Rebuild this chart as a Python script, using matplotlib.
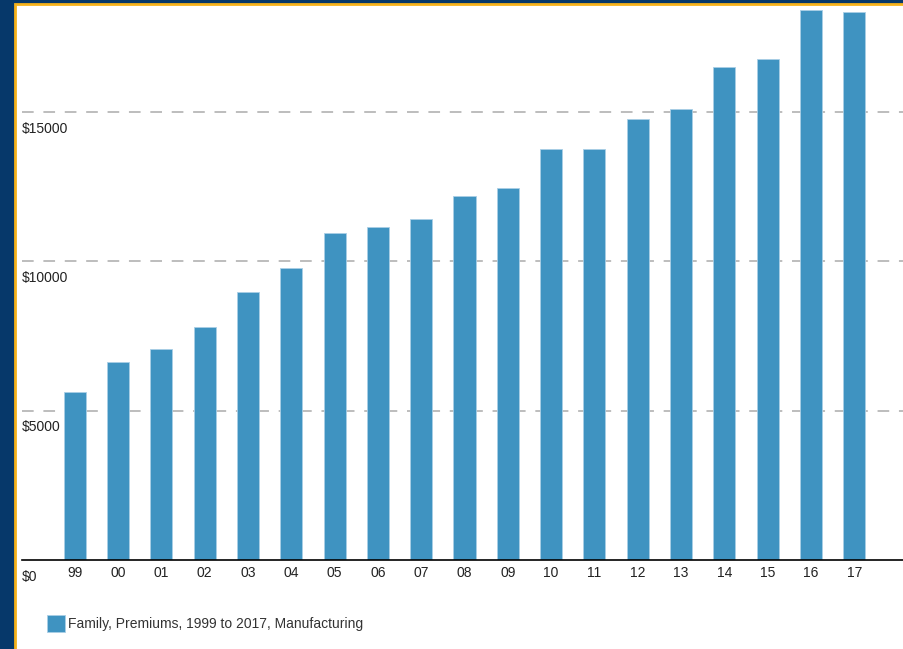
import matplotlib.pyplot as plt
from matplotlib.patches import Rectangle

plt.rcParams['font.family'] = ['Liberation Sans', 'DejaVu Sans']

years = ["99", "00", "01", "02", "03", "04", "05", "06", "07", "08",
         "09", "10", "11", "12", "13", "14", "15", "16", "17"]
premiums = [5630, 6630, 7070, 7800, 8970, 9780, 10950, 11150, 11420, 12190,
            12460, 13760, 13760, 14770, 15100, 16510, 16780, 18420, 18350]
grid_vals = [5000, 10000, 15000]
ytick_labels = ["$0", "$5000", "$10000", "$15000"]
legend_label = "Family, Premiums, 1999 to 2017, Manufacturing"

W, H = 904, 649
fig = plt.figure(figsize=(W / 100, H / 100), dpi=100)
fig.patch.set_facecolor("#06386a")

# white panel with gold border (behind the axes)
fig.patches.append(Rectangle((15 / W, -0.01), 1 - 15 / W + 0.01, (H - 4) / H + 0.01,
                             transform=fig.transFigure, facecolor="white",
                             edgecolor="#f6b21b", linewidth=2, zorder=-5))

ax = fig.add_axes([22 / W, (H - 560) / H, 1 - 22 / W, (560 - 5) / H])
ax.set_facecolor("none")

x = list(range(len(years)))
ax.bar(x, premiums, width=0.51, color="#3f93c1", edgecolor="#a9cfe6",
       linewidth=0.6, zorder=2)

ax.set_xlim(-1.22, 19.15)
ax.set_ylim(0, 18590)

for v in grid_vals:
    ax.axhline(v, color="#bdbdbd", linestyle=(0, (6, 5)), linewidth=1.4, zorder=1)

for s in ["top", "right", "left"]:
    ax.spines[s].set_visible(False)
ax.spines["bottom"].set_color("black")
ax.spines["bottom"].set_linewidth(1.2)

ax.set_yticks([])
ax.set_xticks(x)
ax.set_xticklabels(years, fontsize=10, color="#222222")
ax.tick_params(axis="x", length=0, pad=4)

for v, lab in zip([0] + grid_vals, ytick_labels):
    ax.annotate(lab, xy=(0, v), xycoords=("axes fraction", "data"),
                xytext=(0, -7), textcoords="offset points",
                ha="left", va="top", fontsize=10, color="#222222")

# legend
fig.patches.append(Rectangle((47 / W, (H - 632) / H), 18 / W, 17 / H,
                             transform=fig.transFigure, facecolor="#3f93c1",
                             edgecolor="#a9cfe6", linewidth=0.6))
fig.text(68 / W, (H - 624) / H, legend_label, ha="left", va="center",
         fontsize=10, color="#333333")

fig.savefig("out.png", dpi=100)
